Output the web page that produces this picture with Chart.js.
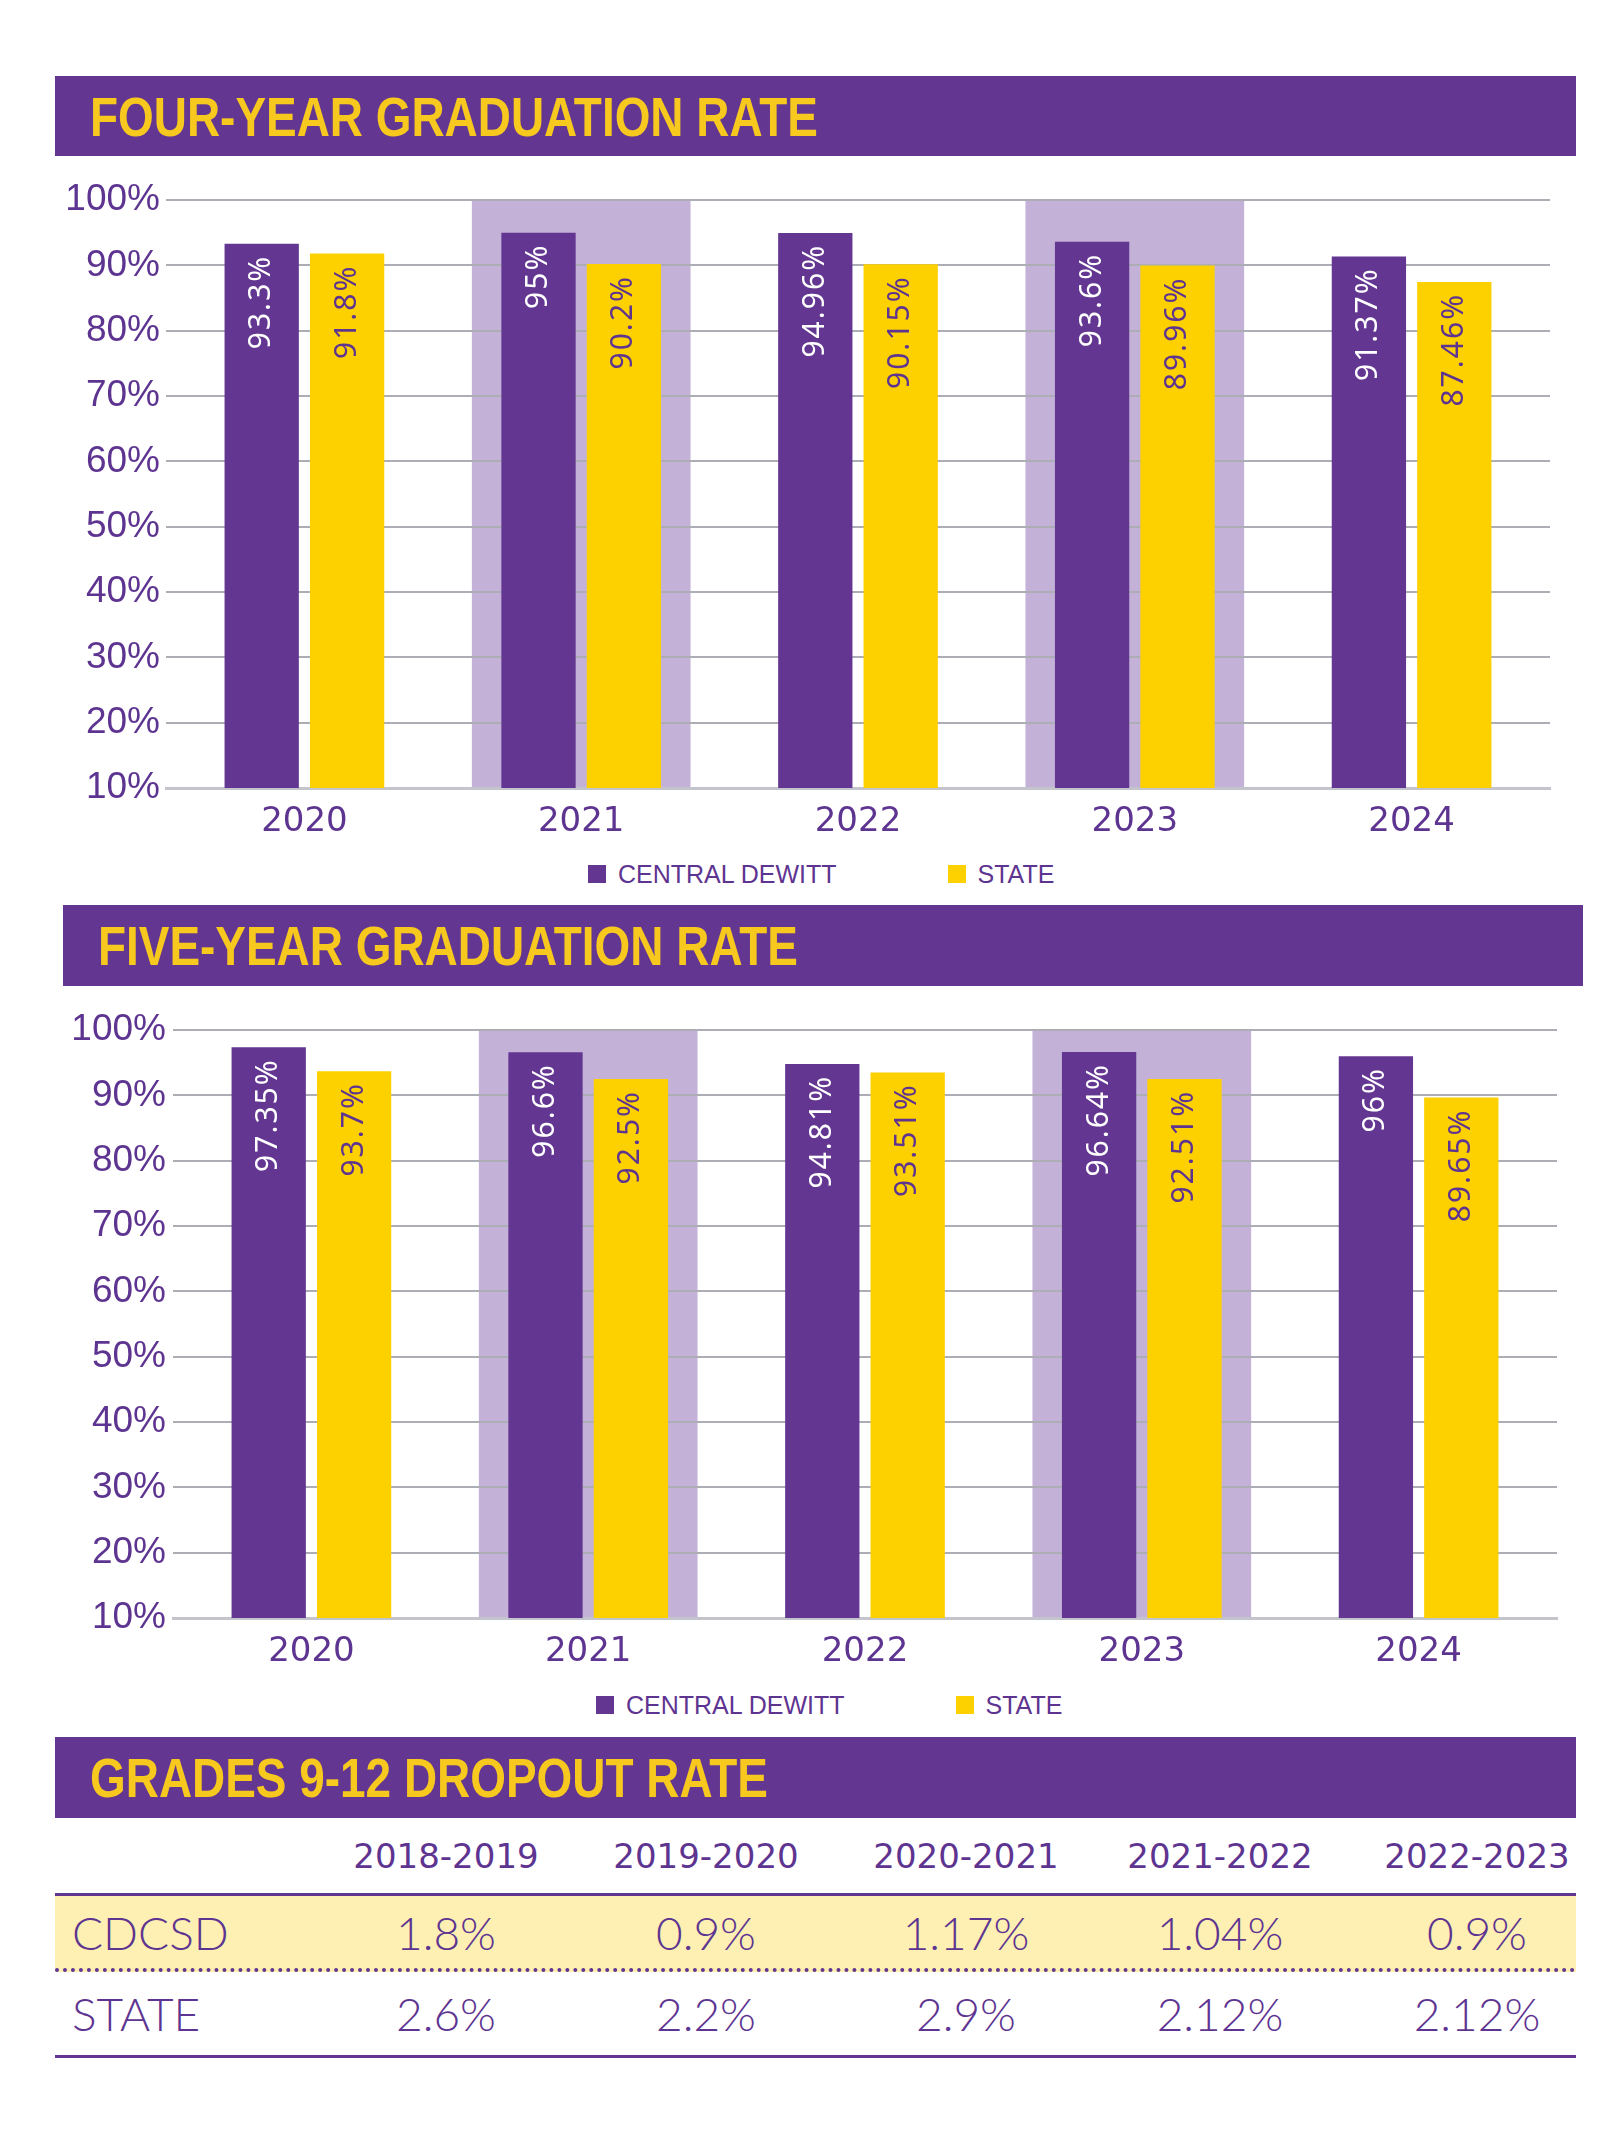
<!DOCTYPE html>
<html>
<head>
<meta charset="utf-8">
<title>Graduation and dropout rates</title>
<script src="https://cdn.jsdelivr.net/npm/chart.js@4.4.1/dist/chart.umd.min.js"></script>
<style>
  body { margin: 0; width: 1620px; height: 2138px; position: relative; background: #fff; overflow: hidden; }
  .band-title {
    position: absolute; height: 80px; box-sizing: border-box; padding-left: 35px;
    background: #633692; color: #F7C81E;
    font: bold 56px 'Liberation Sans', sans-serif;
    display: flex; align-items: center;
  }
  .band-title span { display: inline-block; transform: scaleX(0.82); transform-origin: left center; white-space: nowrap; }
  .chart-box { position: absolute; left: 0; width: 1620px; height: 700px; }
  .legend { position: absolute; height: 30px; display: flex; align-items: center;
    font: 25px 'Liberation Sans', sans-serif; color: #5E3491; }
  .legend .item { display: flex; align-items: center; }
  .legend .item + .item { margin-left: 111px; }
  .legend .swatch { width: 18px; height: 18px; margin-right: 12px; }
  #dropout { position: absolute; left: 55px; top: 1818px; width: 1521px; color: #5E3491; }
  #dropout .row { display: grid; grid-template-columns: 295px 192px 328px 192px 316px 198px; align-items: center; }
  #dropout .head { height: 75px; font: 34px 'DejaVu Sans', sans-serif; }
  #dropout .head div { text-align: center; }
  #dropout .body { font: 300 46px 'Lato', sans-serif; }
  #dropout .body div { text-align: center; }
  #dropout .body div:first-child { text-align: left; padding-left: 17px; }
  #dropout .district { height: 79px; box-sizing: border-box; background: #FDF0B2;
    border-top: 3px solid #633692; border-bottom: 4px dotted #633692; }
  #dropout .state { height: 86px; box-sizing: border-box; border-bottom: 3px solid #633692; }
</style>
</head>
<body>

<div class="band-title" style="left:55px; top:76px; width:1521px;"><span>FOUR-YEAR GRADUATION RATE</span></div>
<div class="chart-box" style="top:156px;"><canvas id="fourYear"></canvas></div>
<div class="legend" id="legend4" style="left:588px; top:859px;"></div>

<div class="band-title" style="left:63px; top:905px; width:1520px; height:81px;"><span>FIVE-YEAR GRADUATION RATE</span></div>
<div class="chart-box" style="top:986px;"><canvas id="fiveYear"></canvas></div>
<div class="legend" id="legend5" style="left:596px; top:1690px;"></div>

<div class="band-title" style="left:55px; top:1737px; width:1521px; height:81px;"><span>GRADES 9-12 DROPOUT RATE</span></div>
<div id="dropout"></div>

<script>
// data
const years = ['2020', '2021', '2022', '2023', '2024'];
const highlightYears = ['2021', '2023'];
const seriesNames = ['CENTRAL DEWITT', 'STATE'];
const fourYearDistrict = [93.3, 95, 94.96, 93.6, 91.37];
const fourYearState = [91.8, 90.2, 90.15, 89.96, 87.46];
const fiveYearDistrict = [97.35, 96.6, 94.81, 96.64, 96];
const fiveYearState = [93.7, 92.5, 93.51, 92.51, 89.65];
const yTickValues = [10, 20, 30, 40, 50, 60, 70, 80, 90, 100];

const dropoutYears = ['2018-2019', '2019-2020', '2020-2021', '2021-2022', '2022-2023'];
const dropoutRowNames = ['CDCSD', 'STATE'];
const dropoutDistrict = [1.8, 0.9, 1.17, 1.04, 0.9];
const dropoutState = [2.6, 2.2, 2.9, 2.12, 2.12];

const PURPLE = '#633692';
const YELLOW = '#FDD000';
const TEXT = '#5E3491';

// lavender band behind the highlighted years
const bandPlugin = {
  id: 'bands',
  beforeDraw(chart, args, opts) {
    const x = chart.scales.x, y = chart.scales.y;
    const catW = x.width / x.ticks.length;
    const ctx = chart.ctx;
    ctx.save();
    ctx.fillStyle = opts.color;
    opts.categories.forEach(c => {
      const cx = x.getPixelForValue(years.indexOf(c));
      const w = catW * opts.widthFraction;
      const top = y.getPixelForValue(100), bottom = y.getPixelForValue(10);
      ctx.fillRect(cx - w / 2, top, w, bottom - top);
    });
    ctx.restore();
  }
};

// rotated value labels inside the bars
const valueLabels = {
  id: 'valueLabels',
  afterDatasetsDraw(chart) {
    const ctx = chart.ctx;
    chart.data.datasets.forEach((ds, i) => {
      chart.getDatasetMeta(i).data.forEach((bar, j) => {
        ctx.save();
        ctx.translate(bar.x, bar.y + 11);
        ctx.rotate(-Math.PI / 2);
        ctx.font = "30px 'Noto Sans', sans-serif";
        ctx.letterSpacing = '2px';
        ctx.fillStyle = ds.labelColor;
        ctx.textAlign = 'right';
        ctx.textBaseline = 'middle';
        ctx.fillText(ds.data[j] + '%', 0, 0);
        ctx.restore();
      });
    });
  }
};

function makeChart(id, district, state, left, right, tickPad) {
  return new Chart(document.getElementById(id), {
    type: 'bar',
    data: {
      labels: years,
      datasets: [
        { label: seriesNames[0], data: district, backgroundColor: PURPLE, labelColor: '#fff' },
        { label: seriesNames[1], data: state, backgroundColor: YELLOW, labelColor: TEXT }
      ]
    },
    options: {
      responsive: true,
      maintainAspectRatio: false,
      animation: false,
      categoryPercentage: 0.617,
      barPercentage: 0.87,
      layout: { padding: { top: 44, right: 1620 - right, left: 0, bottom: 0 } },
      plugins: {
        legend: { display: false },
        tooltip: { enabled: false },
        bands: { categories: highlightYears, color: '#C3B1D7', widthFraction: 0.79 }
      },
      scales: {
        x: {
          grid: { display: false },
          border: { color: '#C4C4CC', width: 3 },
          ticks: { color: TEXT, padding: 6, font: { family: 'DejaVu Sans', size: 34 } },
          afterFit: s => { s.height = 68; }
        },
        y: {
          min: 10, max: 100,
          afterBuildTicks: s => { s.ticks = yTickValues.map(v => ({ value: v })); },
          grid: { color: '#ADADB5', lineWidth: 2, drawTicks: false },
          border: { display: false },
          ticks: {
            color: TEXT, padding: tickPad,
            font: { family: 'Liberation Sans', size: 37 },
            callback: v => v + '%'
          },
          afterFit: s => { s.width = left; }
        }
      }
    },
    plugins: [bandPlugin, valueLabels]
  });
}

function buildLegend(el) {
  [PURPLE, YELLOW].forEach((c, i) => {
    const item = document.createElement('div');
    item.className = 'item';
    item.innerHTML = '<span class="swatch" style="background:' + c + '"></span>' + seriesNames[i];
    el.appendChild(item);
  });
}

makeChart('fourYear', fourYearDistrict, fourYearState, 166, 1550, 6);
makeChart('fiveYear', fiveYearDistrict, fiveYearState, 173, 1557, 7);
buildLegend(document.getElementById('legend4'));
buildLegend(document.getElementById('legend5'));

// dropout table
const table = document.getElementById('dropout');
let html = '<div class="row head"><div></div>' + dropoutYears.map(y => '<div>' + y + '</div>').join('') + '</div>';
[dropoutDistrict, dropoutState].forEach((vals, i) => {
  html += '<div class="row body ' + (i === 0 ? 'district' : 'state') + '"><div>' + dropoutRowNames[i] + '</div>' +
    vals.map(v => '<div>' + v + '%</div>').join('') + '</div>';
});
table.innerHTML = html;
</script>
</body>
</html>
